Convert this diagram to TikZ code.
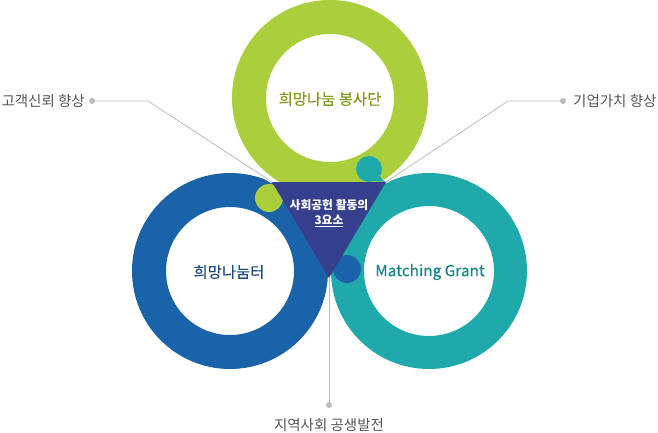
\documentclass[tikz,border=0pt]{standalone}
\usepackage{fontspec}
\setmainfont{Noto Sans CJK KR}
\newfontfamily\medfont[FakeBold=0.5]{Noto Sans CJK KR}
\usetikzlibrary{calc}
\definecolor{ringgreen}{HTML}{ABCF3C}
\definecolor{ringblue}{HTML}{1B63A8}
\definecolor{ringteal}{HTML}{1FA9AA}
\definecolor{trifill}{HTML}{353F8E}
\definecolor{greentext}{HTML}{7C9C1C}
\definecolor{bluetext}{HTML}{1D4C84}
\definecolor{tealtext}{HTML}{1A8685}
\definecolor{labelgray}{HTML}{555555}
\definecolor{linegray}{HTML}{BBBBBB}
\begin{document}
\begin{tikzpicture}[x=1pt,y=-1pt,
  ring/.style={fill=#1,even odd rule},
  knob/.style={fill=#1},
  ringtext/.style={text=#1,font=\medfont\fontsize{15.4}{17}\selectfont},
  lbl/.style={text=labelgray,font=\fontsize{14.5}{16}\selectfont,inner sep=0pt},
  dot/.style={circle,fill=linegray,inner sep=0pt,minimum size=6pt},
  lead/.style={draw=linegray,line width=.8pt},
  halo/.style={draw=white,line width=3pt}]
  \useasboundingbox (0,0) rectangle (658,433);
  \coordinate (mid) at (329,214);
  \coordinate (tl) at (272,182); \coordinate (tr) at (386,182); \coordinate (bt) at (329,278);
  % three rings, each cut to its sector of the triangle
  \begin{scope}
    \clip (mid) -- ($(mid)!4!(tl)$) -- (90,-10) -- (570,-10) -- ($(mid)!4!(tr)$) -- cycle;
    \fill[ring=ringgreen] (330,98) circle (98) (330,98) circle (64);
  \end{scope}
  \begin{scope}
    \clip (mid) -- ($(mid)!4!(tl)$) -- (90,86) -- (90,420) -- (329,420) -- cycle;
    \fill[ring=ringblue] (230,271) circle (98) (230,271) circle (64);
  \end{scope}
  \begin{scope}
    \clip (mid) -- (329,420) -- (570,420) -- (570,86) -- ($(mid)!4!(tr)$) -- cycle;
    \fill[ring=ringteal] (429,271) circle (98) (429,271) circle (65);
  \end{scope}
  % leader lines
  \node[dot] (dotl) at (92,101) {}; \coordinate (bendl) at (148,101);
  \node[dot] (dotr) at (563,101) {}; \coordinate (bendr) at (508,101);
  \node[dot] (dotb) at (329,405) {}; \coordinate (gap) at (329,372);
  \draw[halo] (bendl) -- (tl); \draw[halo] (bendr) -- (tr); \draw[halo] (bt) -- (gap);
  % puzzle knobs
  \fill[knob=ringgreen] (269,198) circle (14);
  \fill[knob=ringteal] (369,169) circle (13) (373,181) -- (380,176) .. controls (382,180) .. (386,182) -- cycle;
  \fill[knob=ringblue] (347,269) circle (14);
  \fill[trifill] (tl) -- (tr) -- (bt) -- cycle;
  \draw[lead] (dotl) -- (bendl) -- (tl);
  \draw[lead] (dotr) -- (bendr) -- (tr);
  \draw[lead] (bt) -- (dotb);
  \node[align=center,text=white,font=\bfseries\fontsize{11.8}{15.5}\selectfont] (core) at (329,213) {사회공헌 활동의\\\underline{3요소}};
  \node[ringtext=greentext] (bongsa) at (330,99) {희망나눔 봉사단};
  \node[ringtext=bluetext] (nanum) at (229,272) {희망나눔터};
  \node[ringtext=tealtext] (grant) at (430,272) {Matching Grant};
  \node[lbl,anchor=east] (trust) at (85,101) {고객신뢰 향상};
  \node[lbl,anchor=west] (value) at (573,101) {기업가치 향상};
  \node[lbl] (local) at (329,425) {지역사회 공생발전};
\end{tikzpicture}
\end{document}
